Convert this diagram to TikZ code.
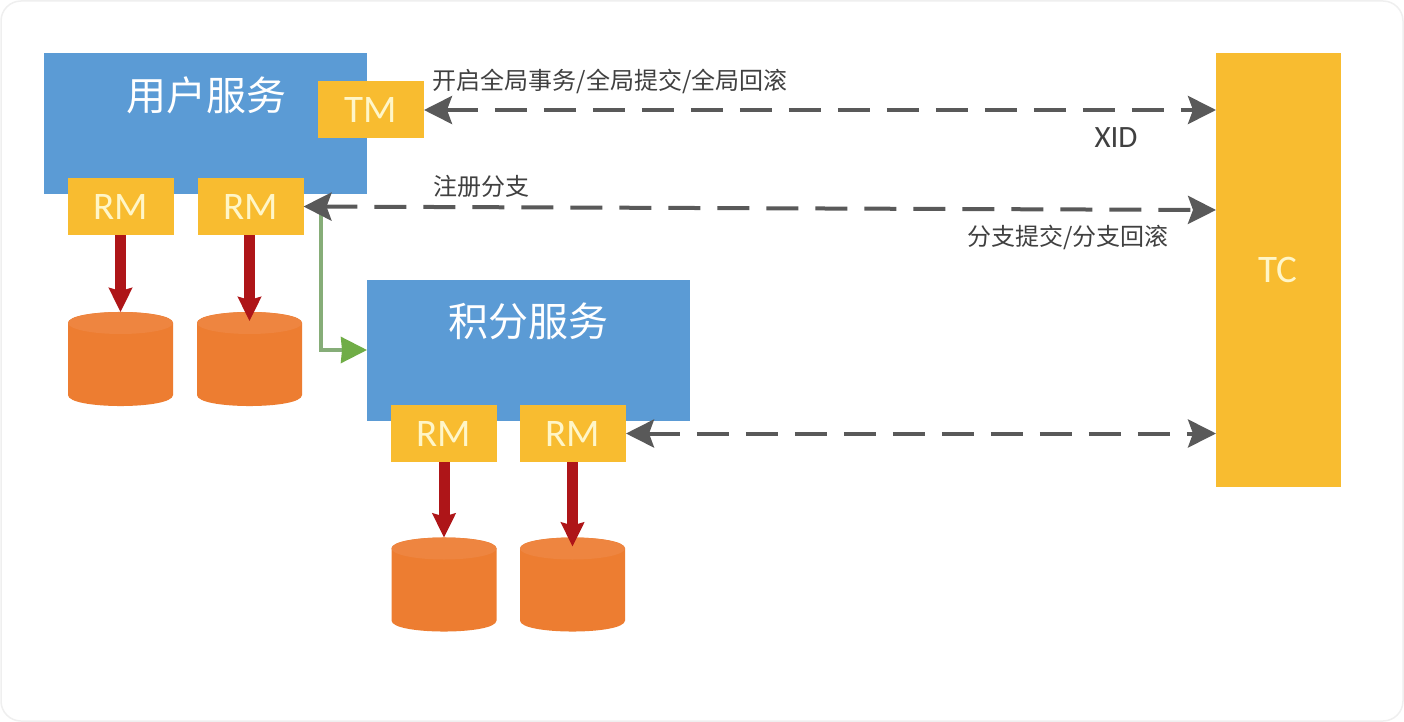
\documentclass[tikz,border=0pt]{standalone}
\usepackage{fontspec}
\setmainfont{Carlito}
\newfontfamily\cjk{Noto Sans CJK SC}
\usetikzlibrary{arrows.meta}
\definecolor{svcblue}{HTML}{5B9BD5}
\definecolor{boxyellow}{HTML}{F8BC30}
\definecolor{dborange}{HTML}{ED7D31}
\definecolor{dbtop}{HTML}{EE8540}
\definecolor{writered}{HTML}{AE1518}
\definecolor{callgreen}{HTML}{70AD47}
\definecolor{callstem}{HTML}{86AD78}
\definecolor{linegrey}{HTML}{595959}
\definecolor{paletext}{HTML}{FFF6C8}
\definecolor{cardline}{HTML}{EFEFEF}
\tikzset{
	svcbox/.style={fill=svcblue,minimum width=323pt,minimum height=141pt,inner sep=0pt,outer sep=0pt},
	rmbox/.style={fill=boxyellow,minimum width=106pt,minimum height=57pt,inner sep=0pt,outer sep=0pt,text=paletext,font=\fontsize{39}{39}\selectfont},
	dbcyl/.style={minimum width=105pt,minimum height=94pt,inner sep=0pt,outer sep=0pt},
	titletext/.style={text=white,font=\cjk\fontsize{40}{40}\selectfont,inner sep=0pt},
	notetext/.style={text=black!75,font=\cjk\fontsize{24}{24}\selectfont,inner sep=0pt},
	dashline/.style={linegrey,line width=4pt,dash pattern=on 32pt off 17pt,{Stealth[length=28pt,width=28pt,inset=5pt]}-{Stealth[length=28pt,width=28pt,inset=5pt]}},
	writeline/.style={writered,line width=11pt,-{Stealth[length=24pt,width=23pt,inset=3pt]}},
	callline/.style={callstem,line width=3.5pt,-{Stealth[length=26pt,width=26pt,inset=1pt,color=callgreen]}}
}
\begin{document}
\begin{tikzpicture}[x=1pt,y=-1pt]
	\useasboundingbox (0,0) rectangle (1404,722);
	\draw [cardline, line width=1.5pt, fill=white, rounded corners=20pt] (1,1) rectangle (1403,721);

	\node [svcbox] (svca) at (205.5,123.5) {};
	\node [svcbox] (svcb) at (528.5,350) {};
	\node [fill=boxyellow,minimum width=125pt,minimum height=434pt,inner sep=0pt,outer sep=0pt] (tc) at (1278.5,270) {};

	\node [titletext] (svcatitle) at (206,95) {用户服务};
	\node [titletext] (svcbtitle) at (528,321) {积分服务};
	\node [text=paletext,font=\fontsize{39}{39}\selectfont,inner sep=0pt] (tctext) at (1278,270) {TC};

	\node [rmbox] (tm) at (371,110) {TM};
	\node [rmbox] (rma) at (121,206.5) {RM};
	\node [rmbox] (rmb) at (250.5,206.5) {RM};
	\node [rmbox] (rmc) at (444,433.5) {RM};
	\node [rmbox] (rmd) at (573,433.5) {RM};

	\node [dbcyl] (dba) at (120.5,359) {};
	\node [dbcyl] (dbb) at (249.5,359) {};
	\node [dbcyl] (dbc) at (444,584.5) {};
	\node [dbcyl] (dbd) at (572.5,584.5) {};
	\foreach \db in {dba,dbb,dbc,dbd} {
		\fill [dborange] ([yshift=-11pt]\db.north west) -- ([yshift=11pt]\db.south west)
			.. controls ([yshift=-3.7pt]\db.south west) and ([yshift=-3.7pt]\db.south east) .. ([yshift=11pt]\db.south east)
			-- ([yshift=-11pt]\db.north east)
			.. controls ([yshift=3.7pt]\db.north east) and ([yshift=3.7pt]\db.north west) .. cycle;
		\fill [dbtop] (\db.north) ++(0,11) ellipse [x radius=52.5, y radius=11];
	}

	\draw [writeline] (dba.north |- rma.south) -- (dba.north);
	\draw [writeline] (dbb.north |- rmb.south) -- ([yshift=-9pt]dbb.north);
	\draw [writeline] (dbc.north |- rmc.south) -- (dbc.north);
	\draw [writeline] (dbd.north |- rmd.south) -- ([yshift=-9pt]dbd.north);

	\coordinate (branch) at (321,212);
	\draw [callline] (branch) |- (svcb.west);

	\coordinate (tcreg) at (1216,210);
	\draw [dashline] (tm.east) -- (tm.east -| tc.west);
	\draw [dashline] (rmb.east) -- (tcreg);
	\draw [dashline] (rmd.east) -- (rmd.east -| tc.west);

	\node [notetext] (begintext) at (610,81) {开启全局事务/全局提交/全局回滚};
	\node [text=black!75,font=\fontsize{31}{31}\selectfont,inner sep=0pt] (xidtext) at (1116,138) {XID};
	\node [notetext] (regtext) at (481,186) {注册分支};
	\node [notetext] (acktext) at (1068,237) {分支提交/分支回滚};
\end{tikzpicture}
\end{document}
